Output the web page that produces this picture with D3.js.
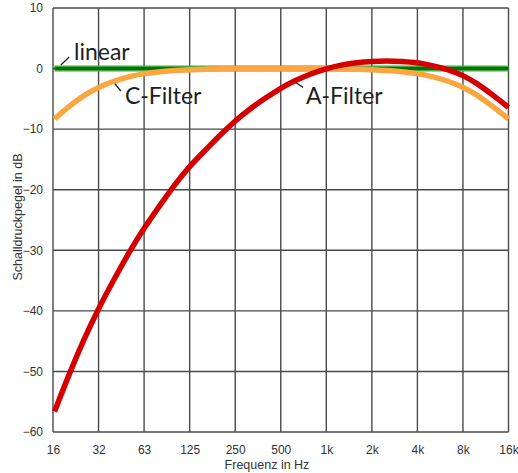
<!DOCTYPE html>
<html>
<head>
<meta charset="utf-8">
<script src="https://cdn.jsdelivr.net/npm/d3@7"></script>
<style>
  body { margin: 0; background: #fff; }
  text { font-family: "Liberation Sans", Arial, sans-serif; }
</style>
</head>
<body>
<div id="wrapper"></div>
<script>
// octave grid (nominal labels) and third-octave readings of the curves
const tickFreqs = [15.625, 31.25, 62.5, 125, 250, 500, 1000, 2000, 4000, 8000, 16000]
const tickLabels = ["16", "32", "63", "125", "250", "500", "1k", "2k", "4k", "8k", "16k"]
const dbTicks = [10, 0, -10, -20, -30, -40, -50, -60]

const freqs = [16, 20, 25, 31.5, 40, 50, 63, 80, 100, 125, 160, 200, 250, 315, 400, 500, 630, 800,
  1000, 1250, 1600, 2000, 2500, 3150, 4000, 5000, 6300, 8000, 10000, 12500, 16000]
const aFilter = [-56.6, -50.4, -44.7, -39.4, -34.6, -30.2, -26.2, -22.5, -19.1, -16.1, -13.4, -10.9, -8.6, -6.6, -4.8, -3.2, -1.9, -0.8,
  0, 0.6, 1.0, 1.2, 1.3, 1.2, 1.0, 0.5, -0.1, -1.1, -2.5, -4.3, -6.4]
const cFilter = [-8.3, -6.2, -4.4, -3.0, -2.0, -1.3, -0.8, -0.5, -0.3, -0.2, -0.1, 0, 0, 0, 0, 0, 0, 0,
  0, 0, -0.1, -0.2, -0.3, -0.5, -0.8, -1.3, -2.0, -3.0, -4.4, -6.2, -8.3]
const linear = [0, 0, 0, 0, 0, 0, 0, 0, 0, 0, 0, 0, 0, 0, 0, 0, 0, 0,
  0, 0, 0, 0, 0, 0, 0, 0, 0, 0, 0, 0, 0]

const labelNames = ["linear", "C-Filter", "A-Filter"]
const labelAt = [[21.5, 1.4], [46.7, -5.85], [734, -5.85]]
const leaderFrom = [[17.6, 0.6], [40.1, -2.5], [628, -2.3]]
const leaderTo = [[20, 1.9], [43.9, -3.7], [702, -3.1]]

const dimensions = {
  width: 518,
  height: 473,
  margin: { top: 8, right: 9.5, bottom: 41, left: 53 },
}
dimensions.boundedWidth = dimensions.width - dimensions.margin.left - dimensions.margin.right
dimensions.boundedHeight = dimensions.height - dimensions.margin.top - dimensions.margin.bottom

const wrapper = d3.select("#wrapper")
  .append("svg")
  .attr("width", dimensions.width)
  .attr("height", dimensions.height)

const bounds = wrapper.append("g")
  .attr("transform", `translate(${dimensions.margin.left},${dimensions.margin.top})`)

const xScale = d3.scaleLog()
  .domain([15.625, 16000])
  .range([0, dimensions.boundedWidth])
const yScale = d3.scaleLinear()
  .domain([-60, 10])
  .range([dimensions.boundedHeight, 0])

// grid
bounds.append("g").selectAll("line")
  .data(tickFreqs)
  .join("line")
  .attr("x1", d => xScale(d)).attr("x2", d => xScale(d))
  .attr("y1", 0).attr("y2", dimensions.boundedHeight)
  .attr("stroke", "#4a4a4a").attr("stroke-width", 1.4)
bounds.append("g").selectAll("line")
  .data(dbTicks)
  .join("line")
  .attr("x1", 0).attr("x2", dimensions.boundedWidth)
  .attr("y1", d => yScale(d)).attr("y2", d => yScale(d))
  .attr("stroke", "#4a4a4a").attr("stroke-width", 1.4)

// axes (text only, grid does the lines)
const yAxis = bounds.append("g")
  .call(d3.axisLeft(yScale).tickValues(dbTicks).tickSize(0).tickPadding(10).tickFormat(d3.format("d")))
yAxis.select(".domain").remove()
yAxis.selectAll("text").style("font-size", "12px").attr("fill", "#333")

const xAxis = bounds.append("g")
  .attr("transform", `translate(0,${dimensions.boundedHeight})`)
  .call(d3.axisBottom(xScale).tickValues(tickFreqs).tickSize(0).tickPadding(13)
    .tickFormat((d, i) => tickLabels[i]))
xAxis.select(".domain").remove()
xAxis.selectAll("text").style("font-size", "12px").attr("fill", "#333")

wrapper.append("text")
  .attr("x", 267)
  .attr("y", 469)
  .attr("text-anchor", "middle")
  .attr("fill", "#333")
  .style("font-size", "12.5px")
  .text("Frequenz in Hz")

wrapper.append("text")
  .attr("transform", "translate(21.5,217) rotate(-90)")
  .attr("text-anchor", "middle")
  .attr("fill", "#333")
  .style("font-size", "12.5px")
  .text("Schalldruckpegel in dB")

// curves
const lineGenerator = values => d3.line()
  .x((d, i) => xScale(freqs[i]))
  .y(d => yScale(d))
  .curve(d3.curveBasis)(values)

bounds.append("path")
  .attr("d", lineGenerator(linear))
  .attr("fill", "none")
  .attr("stroke", "#3fae3f")
  .attr("stroke-width", 6)
bounds.append("path")
  .attr("d", lineGenerator(linear))
  .attr("fill", "none")
  .attr("stroke", "#0a6e0a")
  .attr("stroke-width", 3)
bounds.append("path")
  .attr("d", lineGenerator(cFilter))
  .attr("fill", "none")
  .attr("stroke", "#fba640")
  .attr("stroke-width", 5.5)
bounds.append("path")
  .attr("d", lineGenerator(aFilter))
  .attr("fill", "none")
  .attr("stroke", "#d40000")
  .attr("stroke-width", 5.5)

// labels
bounds.append("g").selectAll("line")
  .data(labelNames)
  .join("line")
  .attr("x1", (d, i) => xScale(leaderFrom[i][0]))
  .attr("y1", (d, i) => yScale(leaderFrom[i][1]))
  .attr("x2", (d, i) => xScale(leaderTo[i][0]))
  .attr("y2", (d, i) => yScale(leaderTo[i][1]))
  .attr("stroke", "#222")
  .attr("stroke-width", 1.3)
bounds.append("g").selectAll("text")
  .data(labelNames)
  .join("text")
  .attr("x", (d, i) => xScale(labelAt[i][0]))
  .attr("y", (d, i) => yScale(labelAt[i][1]))
  .attr("fill", "#1e1e1e")
  .style("font-family", "Lato, sans-serif")
  .style("font-size", "23px")
  .text(d => d)
</script>
</body>
</html>
